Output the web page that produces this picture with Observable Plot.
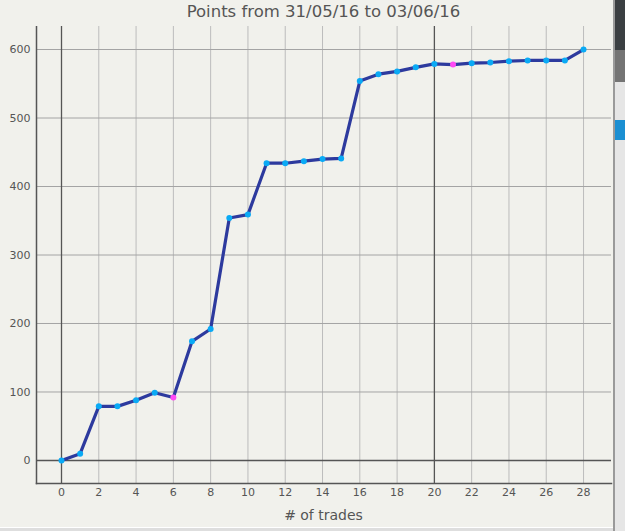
<!DOCTYPE html>
<html>
<head>
<meta charset="utf-8">
<script src="https://cdn.jsdelivr.net/npm/d3@7"></script>
<script src="https://cdn.jsdelivr.net/npm/@observablehq/plot@0.6"></script>
<style>
  body {
    margin: 0;
    padding: 0;
    width: 625px;
    height: 531px;
    overflow: hidden;
    background: #f1f1ec;
    position: relative;
    font-family: "DejaVu Sans", sans-serif;
    color: #555;
  }
  .title {
    height: 26px;
    width: 611px;
    text-align: center;
    font-size: 16.5px;
    line-height: 24px;
    padding-left: 36px;
    box-sizing: border-box;
  }
  #chart { height: 480px; }
  .caption {
    width: 611px;
    text-align: center;
    font-size: 14px;
    line-height: 18px;
    padding-left: 36px;
    box-sizing: border-box;
  }
  /* side of the app window that shows in the screenshot */
  .side { position: absolute; left: 613px; width: 12px; }
  .bottom { position: absolute; left: 0; top: 527px; width: 613px; height: 4px; background: #dedede; border-top: 1px solid #fff; }
</style>
</head>
<body>
<div class="title">Points from 31/05/16 to 03/06/16</div>
<div id="chart"></div>
<div class="caption"># of trades</div>

<div class="side" style="top:0;height:531px;background:#e6e6e6;border-left:2px solid #9a9a9a"></div>
<div class="side" style="top:0;height:50px;background:#3b3f42;left:615px;width:10px"></div>
<div class="side" style="top:50px;height:32px;background:#747474;left:615px;width:10px"></div>
<div class="side" style="top:120px;height:20px;background:#1b8fd2;left:615px;width:10px"></div>
<div class="bottom"></div>

<script>
  // cumulative points after each trade
  let trades = d3.range(0, 29)
  let points = [0, 10, 79, 79, 88, 99, 92, 174, 192, 354,
                359, 434, 434, 437, 440, 441, 554, 564, 568, 574,
                579, 578, 580, 581, 583, 584, 584, 584, 600]
  // trades drawn with the pink marker
  let pinkTrades = [6, 21]

  let xTicks = d3.range(0, 29, 2)
  let yTicks = [0, 100, 200, 300, 400, 500, 600]
  let darkX = [0, 20]
  let darkY = [0]

  let data = trades.map((t, i) => ({trade: t, points: points[i], pink: pinkTrades.includes(t)}))

  let chart = Plot.plot({
    width: 625,
    height: 480,
    marginTop: 0,
    marginBottom: 23,
    marginLeft: 36,
    marginRight: 14,
    style: {background: "transparent", color: "#555", fontFamily: "DejaVu Sans, sans-serif"},
    x: {domain: [-1.341, 29.5], ticks: xTicks},
    y: {domain: [-33.6, 633.6], ticks: yTicks},
    marks: [
      Plot.ruleX(xTicks.filter(d => !darkX.includes(d)), {stroke: "#bcbcbc", strokeWidth: 1}),
      Plot.ruleY(yTicks.filter(d => !darkY.includes(d)), {stroke: "#a4a4a4", strokeWidth: 1}),
      Plot.ruleX(darkX, {stroke: "#555", strokeWidth: 1.3}),
      Plot.ruleY(darkY, {stroke: "#555", strokeWidth: 1.3}),
      Plot.frame({anchor: "left", stroke: "#555", strokeWidth: 1.5}),
      Plot.frame({anchor: "bottom", stroke: "#555", strokeWidth: 1.5}),
      Plot.axisX({ticks: xTicks, tickSize: 0, tickPadding: 5, fontSize: 11, label: null}),
      Plot.axisY({ticks: yTicks, tickSize: 0, tickPadding: 6, fontSize: 11, label: null}),
      Plot.line(data, {x: "trade", y: "points", stroke: "#2d3a9e", strokeWidth: 3.2, strokeLinejoin: "round"}),
      Plot.dot(data, {x: "trade", y: "points", r: 3, fill: d => d.pink ? "#ff4af5" : "#0aaaf5", stroke: null})
    ]
  })

  document.querySelector("#chart").append(chart)
</script>
</body>
</html>
